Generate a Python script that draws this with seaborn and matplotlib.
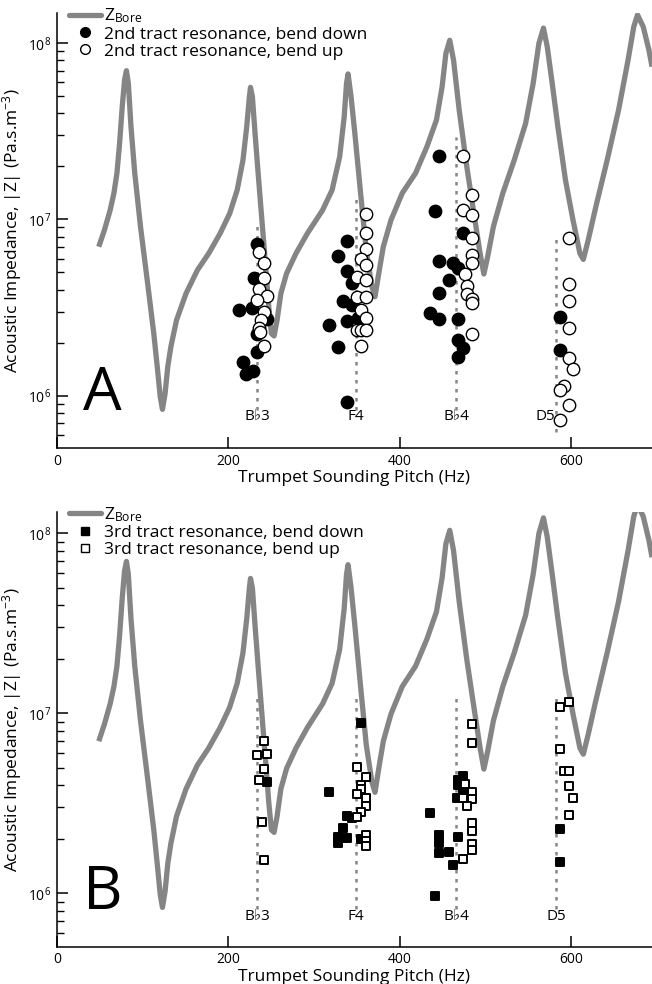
import numpy as np
import pandas as pd
import matplotlib
matplotlib.use('Agg')
import matplotlib.pyplot as plt
import seaborn as sns
from matplotlib.lines import Line2D
from matplotlib.ticker import LogLocator, NullFormatter, LogFormatterSciNotation, FixedLocator

sns.set_style('ticks')
plt.rcParams['font.family'] = ['Open Sans', 'DejaVu Sans']
plt.rcParams['mathtext.fontset'] = 'custom'
plt.rcParams['mathtext.rm'] = 'Open Sans'
plt.rcParams['mathtext.it'] = 'Open Sans:italic'
plt.rcParams['mathtext.bf'] = 'Open Sans:bold'
for k in ['text.color', 'axes.labelcolor', 'xtick.color', 'ytick.color', 'axes.edgecolor']:
    plt.rcParams[k] = 'black'

# ---------------- data ----------------
bore_freq = [48.7, 55.3, 62.0, 66.4, 69.9, 73.0, 76.1, 78.8, 81.0, 83.2, 86.3, 90.7, 97.4, 106.2, 112.9,
             117.3, 120.4, 123.0, 126.1, 129.2, 132.8, 139.4, 150.5, 163.8, 177.0, 190.3, 201.4, 210.2,
             216.9, 221.3, 224.4, 225.7, 227.9, 231.0, 234.6, 239.0, 243.4, 247.0, 250.1, 253.2, 256.7,
             261.1, 267.8, 278.8, 292.1, 309.8, 320.9, 329.7, 335.0, 337.7, 339.5, 343.0, 347.4, 354.1,
             360.7, 367.3, 370.9, 375.3, 380.6, 389.5, 402.7, 418.2, 431.5, 442.6, 449.2, 453.6, 458.1,
             462.5, 469.1, 478.0, 486.8, 493.5, 497.9, 502.3, 509.0, 520.0, 533.3, 546.6, 555.4, 562.1,
             567.4, 571.8, 577.6, 584.2, 593.1, 601.9, 609.9, 613.9, 619.6, 628.5, 641.7, 655.0, 666.1,
             672.7, 677.1, 683.8, 690.4, 694.0]
bore_z = [7.0e6, 8.7e6, 1.13e7, 1.41e7, 1.83e7, 2.70e7, 4.37e7, 6.19e7, 6.99e7, 5.93e7, 3.36e7, 1.83e7,
          9.1e6, 4.15e6, 2.25e6, 1.40e6, 9.85e5, 8.35e5, 1.03e6, 1.46e6, 1.89e6, 2.68e6, 3.80e6, 5.16e6,
          6.42e6, 8.34e6, 1.08e7, 1.47e7, 2.17e7, 3.36e7, 4.98e7, 5.62e7, 4.98e7, 3.08e7, 1.83e7, 9.9e6,
          5.39e6, 3.20e6, 2.25e6, 2.18e6, 2.68e6, 3.80e6, 4.94e6, 6.42e6, 8.34e6, 1.13e7, 1.47e7, 2.27e7,
          3.83e7, 5.93e7, 6.70e7, 4.98e7, 3.08e7, 1.41e7, 6.70e6, 4.15e6, 3.64e6, 4.94e6, 7.0e6, 9.9e6,
          1.41e7, 1.83e7, 2.59e7, 3.67e7, 5.67e7, 8.77e7, 1.04e8, 8.04e7, 4.18e7, 1.99e7, 1.04e7, 6.42e6,
          4.90e6, 6.14e6, 9.1e6, 1.41e7, 2.17e7, 3.51e7, 5.93e7, 1.0e8, 1.22e8, 9.57e7, 5.93e7, 3.36e7,
          1.67e7, 9.9e6, 6.42e6, 5.93e6, 7.64e6, 1.18e7, 2.17e7, 4.18e7, 8.04e7, 1.24e8, 1.45e8, 1.24e8,
          9.16e7, 7.37e7]

# Panel A: 2nd tract resonance
a_down_f = [233.6, 230.1, 212.2, 227.8, 244.5, 232.9, 233.6, 217.3, 220.1, 228.2,
            338.5, 327.3, 338.5, 343.7, 333.2, 343.7, 317.2, 338.5, 351.4, 327.3, 338.5,
            445.8, 440.4, 473.1, 445.8, 462.2, 468.0, 457.1, 445.8, 435.0, 445.8, 468.0, 468.0, 473.1, 468.0,
            586.6, 586.6]
a_down_z = [7.25e6, 4.63e6, 3.06e6, 3.15e6, 2.71e6, 2.25e6, 1.77e6, 1.55e6, 1.32e6, 1.38e6,
            7.57e6, 6.20e6, 5.09e6, 4.37e6, 3.44e6, 3.27e6, 2.51e6, 2.65e6, 2.74e6, 1.89e6, 9.23e5,
            2.30e7, 1.12e7, 8.40e6, 5.82e6, 5.67e6, 5.28e6, 4.53e6, 3.80e6, 2.93e6, 2.72e6, 2.71e6, 2.08e6, 1.87e6, 1.66e6,
            2.78e6, 1.81e6]
a_up_f = [235.9, 241.7, 241.7, 235.9, 244.5, 232.9, 241.7, 237.6, 235.9, 236.7, 241.7,
          360.3, 360.3, 360.3, 354.5, 360.3, 349.5, 360.3, 349.5, 360.3, 354.5, 360.3, 349.5, 354.5, 360.3, 354.5,
          473.1, 484.0, 473.1, 484.0, 484.0, 484.0, 484.0, 476.2, 478.5, 478.5, 484.0, 484.0, 484.0,
          597.1, 597.1, 597.1, 597.1, 597.1, 602.1, 591.6, 586.6, 597.1, 586.6]
a_up_z = [6.56e6, 5.64e6, 4.67e6, 4.01e6, 3.67e6, 3.49e6, 2.99e6, 2.69e6, 2.41e6, 2.30e6, 1.92e6,
          1.07e7, 8.34e6, 6.79e6, 5.93e6, 5.51e6, 4.73e6, 4.53e6, 3.64e6, 3.64e6, 3.06e6, 2.74e6, 2.35e6, 2.35e6, 2.35e6, 1.92e6,
          2.29e7, 1.37e7, 1.13e7, 1.06e7, 7.82e6, 6.28e6, 5.68e6, 4.90e6, 4.19e6, 3.77e6, 3.53e6, 3.34e6, 2.23e6,
          7.87e6, 4.30e6, 3.43e6, 2.43e6, 1.63e6, 1.41e6, 1.14e6, 1.07e6, 8.83e5, 7.26e5]

# Panel B: 3rd tract resonance
b_down_f = [244.5,
            354.5, 317.2, 338.5, 343.7, 333.2, 327.3, 327.3, 338.5, 354.5,
            473.1, 468.0, 468.0, 473.1, 466.8, 435.0, 445.8, 445.8, 445.8, 457.1, 468.0, 462.2, 440.8,
            586.6, 586.6]
b_down_z = [4.17e6,
            8.87e6, 3.64e6, 2.70e6, 2.63e6, 2.30e6, 2.06e6, 1.90e6, 2.02e6, 2.01e6,
            4.49e6, 4.26e6, 3.99e6, 3.56e6, 3.40e6, 2.78e6, 2.11e6, 1.90e6, 1.67e6, 1.69e6, 2.05e6, 1.44e6, 9.66e5,
            2.27e6, 1.50e6]
b_up_f = [241.7, 232.9, 244.5, 241.7, 235.9, 238.7, 241.7,
          349.5, 360.3, 354.5, 354.5, 349.5, 360.3, 360.3, 354.5, 349.5, 360.3, 360.3, 360.3,
          484.0, 484.0, 476.2, 484.0, 484.0, 473.1, 478.5, 484.0, 484.0, 484.0, 484.0, 473.1,
          586.6, 597.1, 586.6, 591.6, 597.1, 597.1, 602.1, 597.1]
b_up_z = [7.05e6, 5.86e6, 5.91e6, 4.89e6, 4.26e6, 2.50e6, 1.53e6,
          5.05e6, 4.41e6, 4.00e6, 3.80e6, 3.57e6, 3.40e6, 3.05e6, 2.82e6, 2.67e6, 2.11e6, 1.96e6, 1.83e6,
          8.73e6, 6.87e6, 4.05e6, 3.66e6, 3.36e6, 3.40e6, 3.06e6, 2.47e6, 2.22e6, 1.88e6, 1.73e6, 1.55e6,
          1.08e7, 1.15e7, 6.31e6, 4.80e6, 4.76e6, 3.94e6, 3.40e6, 2.72e6]

note_names = ['B\u266d3', 'F4', 'B\u266d4', 'D5']
note_freqs = [233.2, 348.7, 465.5, 582.0]
a_note_top = [9.7e6, 1.35e7, 2.95e7, 8.3e6]
a_note_bottom = [8.3e5, 8.3e5, 8.3e5, 6.2e5]
b_note_top = [1.25e7, 1.25e7, 1.25e7, 1.25e7]
b_note_bottom = [8.2e5, 8.2e5, 8.2e5, 8.2e5]

x_ticks = [0, 200, 400, 600]

# ---------------- figure ----------------
W, H = 652, 984
fig = plt.figure(figsize=(W / 100, H / 100), dpi=100)
GRAY = '#858585'

def px_axes(left, top, right, bottom):
    return fig.add_axes([left / W, 1 - bottom / H, (right - left) / W, (bottom - top) / H])

axA = px_axes(57, 13.3, 652, 448)
axB = px_axes(57, 511.7, 652, 946.7)

bore_df = pd.DataFrame({'f': bore_freq, 'z': bore_z})

def draw_panel(ax, ylim, down_f, down_z, up_f, up_z, marker, size, note_top, note_bottom,
               label_y, label_ha, legend_labels, letter):
    ax.set_yscale('log')
    sns.lineplot(data=bore_df, x='f', y='z', ax=ax, color=GRAY, lw=3.8, sort=False,
                 estimator=None, solid_joinstyle='round', solid_capstyle='butt', zorder=2)
    ax.vlines(note_freqs, note_bottom, note_top, colors=GRAY, linestyles=(0, (1.4, 2.2)),
              lw=1.8, zorder=1)
    for i, (nf, nm) in enumerate(zip(note_freqs, note_names)):
        ha = label_ha[i]
        dx = -1.5 if ha == 'right' else 0
        ax.text(nf + dx, label_y, nm, ha=ha, va='center', fontsize=11, zorder=3)
    ddf = pd.DataFrame({'f': down_f, 'z': down_z})
    udf = pd.DataFrame({'f': up_f, 'z': up_z})
    ew = 1.0 if marker == 'o' else 1.4
    sns.scatterplot(data=ddf, x='f', y='z', ax=ax, marker=marker, s=size, color='black',
                    edgecolor='black', linewidth=ew, zorder=4)
    sns.scatterplot(data=udf, x='f', y='z', ax=ax, marker=marker, s=size, color='white',
                    edgecolor='black', linewidth=ew, zorder=5)
    ax.set_xlim(0, 694)
    ax.set_ylim(*ylim)
    ax.xaxis.set_major_locator(FixedLocator(x_ticks))
    ax.set_xticklabels([str(t) for t in x_ticks])
    ax.yaxis.set_major_locator(LogLocator(base=10, numticks=10))
    ax.yaxis.set_major_formatter(LogFormatterSciNotation())
    ax.yaxis.set_minor_locator(LogLocator(base=10, subs=np.arange(2, 10), numticks=20))
    ax.yaxis.set_minor_formatter(NullFormatter())
    ax.tick_params(axis='both', which='major', direction='in', length=8, width=1.1,
                   labelsize=10, pad=4, color='black', labelcolor='black')
    ax.tick_params(axis='y', which='minor', direction='in', length=5, width=1.0, color='black')
    ax.tick_params(axis='x', which='minor', bottom=False)
    for s in ['top', 'right']:
        ax.spines[s].set_visible(False)
    for s in ['left', 'bottom']:
        ax.spines[s].set_linewidth(1.1)
        ax.spines[s].set_color('black')
    ax.set_xlabel('Trumpet Sounding Pitch (Hz)', fontsize=12.5, labelpad=1, color='black')
    ax.set_ylabel('Acoustic Impedance, |Z| (Pa.s.m$^{-3}$)', fontsize=12.5, color='black')
    ax.yaxis.set_label_coords(-0.055, 0.5)
    ax.text(0.044, 0.055, letter, transform=ax.transAxes, fontsize=44, ha='left', va='bottom',
            color='black')
    ms = 7 if marker == 'o' else 5.5
    handles = [Line2D([], [], color=GRAY, lw=3.8),
               Line2D([], [], marker=marker, ls='none', mfc='black', mec='black', ms=ms),
               Line2D([], [], marker=marker, ls='none', mfc='white', mec='black', ms=ms, mew=1.0)]
    leg = ax.legend(handles, legend_labels, loc='upper left', bbox_to_anchor=(0.02, 1.015),
                    frameon=False, handlelength=1.85, handletextpad=0.15, labelspacing=0.05,
                    borderaxespad=0, borderpad=0, fontsize=12.5)
    for t in leg.get_texts():
        t.set_color('black')
    ax.set_facecolor('white')

draw_panel(axA, (5.04e5, 1.48e8), a_down_f, a_down_z, a_up_f, a_up_z, 'o', 80,
           a_note_top, a_note_bottom, 7.6e5, ['center', 'center', 'center', 'right'],
           [r'$\mathrm{Z_{Bore}}$', '2nd tract resonance, bend down', '2nd tract resonance, bend up'], 'A')
draw_panel(axB, (5.05e5, 1.32e8), b_down_f, b_down_z, b_up_f, b_up_z, 's', 36,
           b_note_top, b_note_bottom, 7.4e5, ['center', 'center', 'center', 'center'],
           [r'$\mathrm{Z_{Bore}}$', '3rd tract resonance, bend down', '3rd tract resonance, bend up'], 'B')

fig.savefig('out.png', dpi=100)
